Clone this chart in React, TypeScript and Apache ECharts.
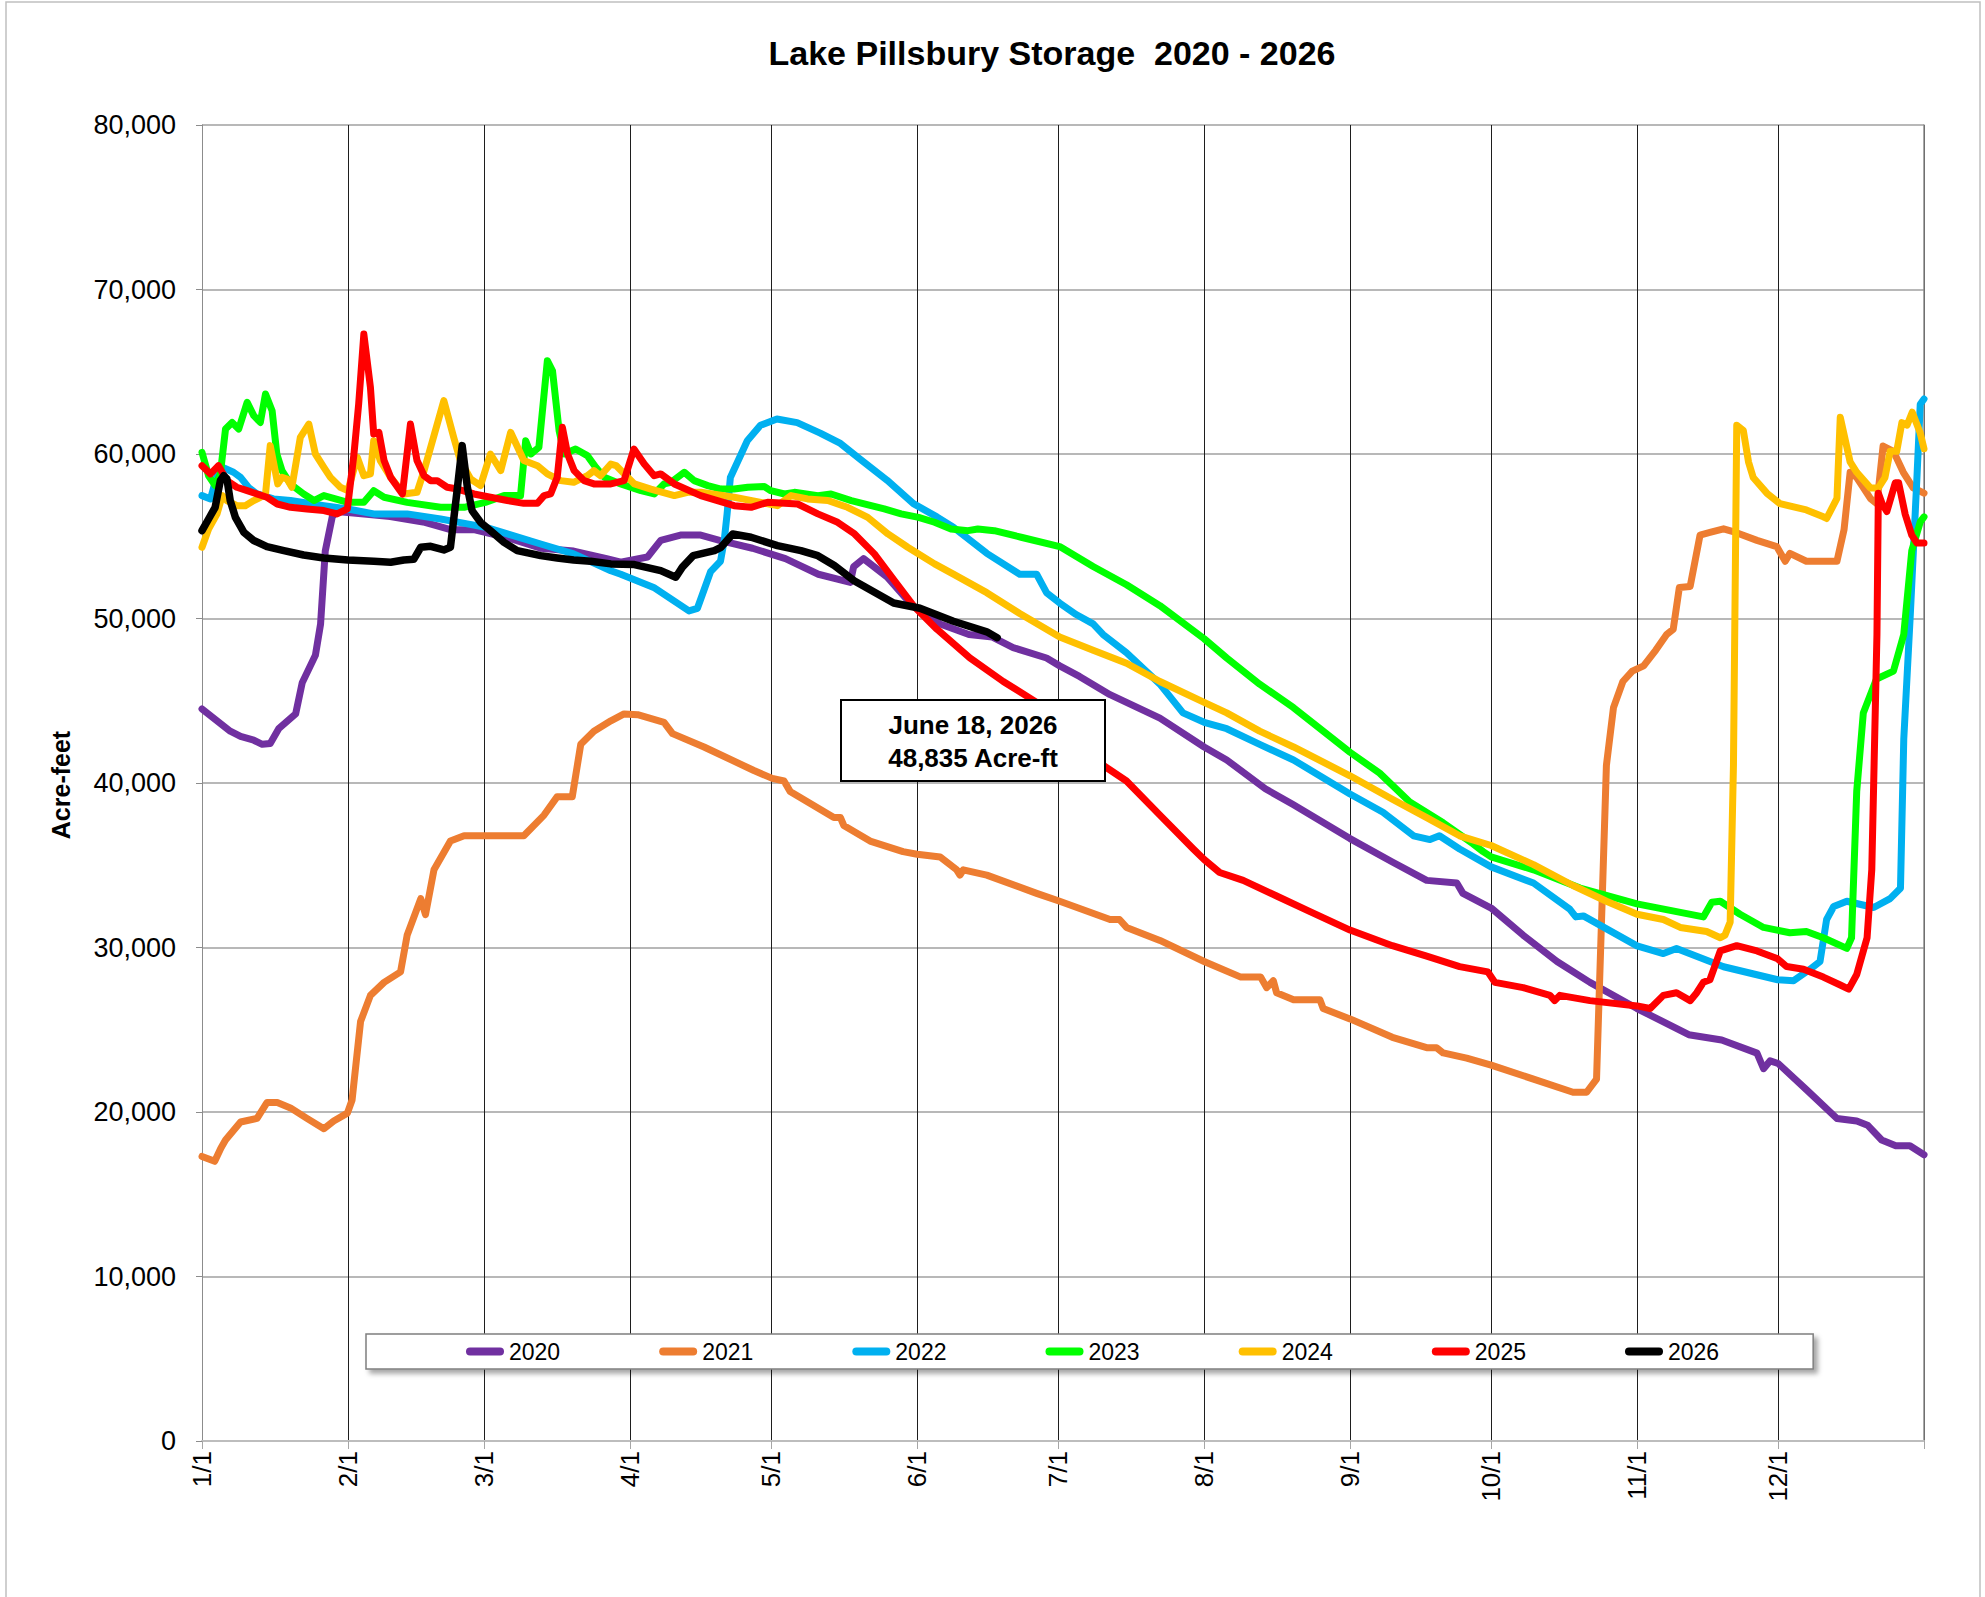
import React, { useEffect, useRef } from "react";
import * as echarts from "echarts";

const FONT = '"Liberation Sans", Arial, Helvetica, sans-serif';

// Axis definitions (leap-year day-of-year axis)
const monthDays = [0, 31, 60, 91, 121, 152, 182, 213, 244, 274, 305, 335];
const monthLabels = ["1/1", "2/1", "3/1", "4/1", "5/1", "6/1", "7/1", "8/1", "9/1", "10/1", "11/1", "12/1"];
const yearEnd = 366;
const yMax = 80000;
const yStep = 10000;

const seriesNames = ["2020", "2021", "2022", "2023", "2024", "2025", "2026"];
const seriesColors = ["#7030A0", "#ED7D31", "#00B0F0", "#00FF00", "#FFC000", "#FF0000", "#000000"];

// [day of year, acre-feet]
const storage2020 = [
  [0, 44500], [6, 43150], [8.2, 42830], [11, 42600], [12.8, 42350], [14.5, 42400], [16.3, 43300], [19.9, 44200],
  [21.3, 46100], [24.1, 47760], [25.2, 49660], [26.2, 54100], [27.7, 56200], [28.7, 56500], [35, 56340], [40, 56200],
  [47, 55870], [53, 55390], [58, 55390], [65, 54900], [72, 54270], [79, 54100], [86, 53640], [89, 53420],
  [94.7, 53740], [97.5, 54750], [101.7, 55070], [106, 55070], [110, 54750], [117, 54270], [124, 53640], [131, 52690],
  [137.8, 52200], [138.5, 53150], [140.6, 53640], [145.6, 52530], [151, 50780], [156.9, 49670], [163, 49030],
  [168, 48870], [172.4, 48230], [179.5, 47600], [182.3, 47120], [186.5, 46480], [193, 45370], [203.6, 43940],
  [213, 42190], [217.8, 41400], [226, 39650], [231.9, 38690], [244, 36620], [253, 35200], [260.3, 34080],
  [266.7, 33920], [268, 33290], [274, 32400], [280.8, 30750], [288, 29150], [295, 27880], [305, 26290],
  [316, 24700], [323, 24380], [330.5, 23580], [331.9, 22630], [333.3, 23110], [335, 22950], [341, 21360],
  [347.5, 19600], [351.7, 19450], [354, 19200], [357, 18300], [360, 17950], [363, 17950], [366, 17400],
];

const storage2021 = [
  [0, 17300], [2.7, 17000], [4, 17800], [5, 18300], [8.2, 19390], [11.7, 19610], [13.8, 20570], [16, 20570],
  [18.8, 20250], [22.3, 19610], [25.9, 18980], [28, 19450], [30.9, 19930], [31.9, 20730], [33.7, 25500],
  [35.8, 27090], [38.7, 27880], [42.2, 28520], [43.6, 30740], [46.5, 32970], [47.5, 32000], [49.3, 34720],
  [52.8, 36470], [55.7, 36790], [60, 36790], [68.4, 36790], [72.7, 38050], [75.5, 39170], [78.7, 39170],
  [80.5, 42350], [83.3, 43150], [86.9, 43780], [89.7, 44200], [92.6, 44150], [98.2, 43690], [100, 43000],
  [106.7, 42190], [117.3, 40760], [121.2, 40280], [123.7, 40120], [125, 39490], [134.3, 37900], [135.7, 37900],
  [136.4, 37420], [142, 36470], [149, 35830], [152, 35670], [156.9, 35500], [160.4, 34720], [161.1, 34400],
  [161.8, 34720], [166.8, 34400], [177.4, 33290], [182.3, 32810], [193, 31700], [195, 31700], [196.5, 31220],
  [203.6, 30430], [213, 29150], [220.8, 28200], [225, 28200], [226.3, 27560], [227.7, 27980], [228.4, 27250],
  [232, 26830], [237.6, 26830], [238.3, 26290], [244, 25660], [253, 24540], [260.3, 23910], [262.4, 23910],
  [263.8, 23590], [268.8, 23270], [274, 22850], [283, 22000], [291.4, 21200], [294.3, 21200], [296.4, 22000],
  [297.8, 34720], [298.5, 41080], [300, 44580], [302, 46170], [304, 46800], [306.4, 47120], [309, 48080],
  [311.3, 49030], [312.7, 49350], [314, 51890], [316.3, 51950], [318.4, 55070], [320.5, 55230], [323.4, 55450],
  [326, 55230], [330.5, 54750], [334.7, 54370], [336.5, 53480], [337.5, 53960], [341, 53480], [347.5, 53480],
  [349, 55390], [350.3, 58890], [351.7, 58570], [354.6, 57300], [356, 56980], [357.3, 60480], [359.5, 60160],
  [361.6, 58890], [363.7, 57940], [366, 57620],
];

const storage2022 = [
  [0, 57470], [1.8, 57270], [3.2, 58700], [4.3, 59190], [6.7, 58890], [8.2, 58580], [9.9, 57970], [11.7, 57570],
  [15.2, 57270], [18.8, 57170], [25.9, 56860], [31, 56660], [36.5, 56360], [43.6, 56360], [50.7, 56050],
  [56.4, 55750], [60.2, 55550], [64.9, 55140], [72, 54530], [79, 53930], [86.9, 52900], [89, 52690], [96, 51890],
  [103.5, 50460], [105.3, 50620], [106.7, 51730], [108.1, 52850], [110.2, 53480], [111, 54750], [111.6, 56340],
  [112.3, 58570], [115.9, 60800], [118.7, 61750], [122.2, 62130], [126.5, 61910], [131.4, 61270], [135.7, 60640],
  [139.9, 59680], [145.6, 58410], [151.2, 56980], [156.2, 56180], [159.7, 55550], [166.8, 53960], [173.8, 52690],
  [177.4, 52690], [179.5, 51570], [182.3, 50940], [185.8, 50240], [189.4, 49670], [191.5, 49030], [196.5, 47920],
  [203.6, 46010], [208.5, 44260], [213, 43690], [217.8, 43300], [224.8, 42350], [232, 41400], [244, 39330],
  [251, 38220], [257.5, 36790], [261, 36560], [263, 36790], [267.3, 35990], [274, 34900], [283, 33920],
  [290.7, 32330], [292, 31860], [293.6, 31920], [305, 30100], [310.6, 29630], [313.4, 29940], [323.4, 28830],
  [334.9, 28040], [338.3, 27980], [341.8, 28680], [343.9, 29150], [345.3, 31700], [346.8, 32490], [349.6, 32810],
  [355.3, 32430], [358.8, 32970], [361, 33600], [361.7, 42670], [363.1, 50300], [364.5, 58570], [365.2, 63020],
  [366, 63340],
];

const storage2023 = [
  [0, 60100], [1.4, 58680], [2.8, 58080], [3.9, 58790], [5, 61520], [6.4, 61920], [7.8, 61520], [9.6, 63140],
  [11, 62330], [12.4, 61920], [13.5, 63650], [14.9, 62630], [15.9, 60000], [17, 58990], [18.8, 58180],
  [21.6, 57570], [23.8, 57170], [25.9, 57470], [31, 57060], [34.4, 57060], [36.5, 57770], [38.7, 57370],
  [43.6, 57060], [50.7, 56760], [55.7, 56760], [60.2, 57060], [64.2, 57470], [67.7, 57470], [68.8, 60810],
  [69.9, 60000], [71.6, 60400], [73.4, 65670], [74.5, 65060], [75.9, 61420], [77, 60000], [79.4, 60300],
  [81.9, 59900], [83.7, 59190], [85.5, 58580], [89, 58180], [93.3, 57770], [96.1, 57570], [98.2, 58180],
  [99.7, 58280], [102.5, 58890], [104.6, 58380], [107.5, 58080], [110.3, 57870], [113.1, 57870], [116, 57980],
  [119.5, 58020], [120.9, 57770], [123.8, 57570], [125.9, 57670], [130.9, 57470], [133.7, 57570], [138, 57170],
  [145, 56660], [148.6, 56360], [152.3, 56150], [155.7, 55850], [159.2, 55440], [162.8, 55340], [164.9, 55440],
  [168.4, 55340], [174.1, 54940], [182.3, 54370], [189.4, 53160], [196.5, 52050], [203.6, 50780], [213, 48770],
  [217.8, 47600], [224.8, 46010], [232, 44580], [244, 41870], [250.3, 40600], [256.7, 38850], [263.8, 37580],
  [270.1, 36310], [272.3, 35830], [274, 35510], [283, 34720], [292.9, 33610], [305, 32650], [319.1, 31860],
  [320.9, 32750], [322.7, 32810], [326.9, 32020], [331.9, 31220], [337.5, 30900], [341, 30970], [344.6, 30590],
  [349.6, 29950], [350.6, 30590], [351.7, 39490], [353.1, 44260], [355.9, 46320], [359.5, 46800], [361.7, 49030],
  [363.4, 54120], [365.2, 55870], [366, 56180],
];

const storage2024 = [
  [0, 54330], [1.4, 55440], [3.2, 56360], [4.3, 57470], [5.3, 57170], [7.4, 56860], [9.2, 56860], [11, 57170],
  [12.4, 57370], [13.5, 57570], [14.5, 60510], [16.1, 58180], [17, 58580], [18.1, 58480], [19.1, 57980],
  [20.9, 61010], [22.7, 61820], [24.1, 60000], [25.9, 59190], [27.3, 58580], [29.4, 57980], [31, 57770],
  [33, 59800], [34.4, 58680], [35.8, 58790], [36.5, 60810], [37.9, 59600], [40.1, 58580], [42.9, 57570],
  [45.7, 57670], [47.2, 58990], [51.4, 63240], [53.5, 61010], [54.9, 59600], [57.1, 58480], [59.2, 58080],
  [61.3, 60000], [63.5, 58990], [65.6, 61320], [68.4, 59600], [71.3, 59290], [73.4, 58790], [76.2, 58380],
  [79, 58280], [81.9, 58680], [83.3, 58990], [84.7, 58680], [86.9, 59390], [88, 59300], [91.9, 58180],
  [95.4, 57870], [100.4, 57470], [103.2, 57670], [106, 57670], [113.1, 57370], [118.8, 57060], [122.3, 56860],
  [125.2, 57470], [128.7, 57270], [133, 57170], [137.2, 56760], [141.5, 56150], [145.8, 55140], [150, 54330],
  [155.7, 53320], [159.7, 52700], [166.8, 51570], [173.8, 50300], [182.3, 48870], [189.4, 48070], [196.5, 47280],
  [203.6, 46170], [213, 44900], [217.8, 44260], [224.8, 43150], [232, 42190], [244, 40440], [253, 39010],
  [260.3, 37900], [267.3, 36790], [274, 36200], [283, 35040], [291.4, 33770], [298.5, 32810], [305, 32020],
  [310.6, 31700], [314.2, 31220], [319.8, 30970], [322.7, 30590], [323.7, 30750], [324.8, 31540], [325.5, 41080],
  [326.2, 61750], [327.6, 61430], [328.7, 59520], [329.7, 58570], [332.6, 57620], [335.4, 56980], [341, 56600],
  [344.6, 56180], [345.3, 56080], [347.5, 57300], [348.2, 62230], [350.3, 59520], [351.7, 58890], [354.6, 57940],
  [356.3, 57940], [357.7, 58570], [358.8, 60160], [360.2, 60160], [361.3, 61910], [362.4, 61750], [363.5, 62540],
  [365.2, 61270], [366, 60320],
];

const storage2025 = [
  [0, 59290], [1.8, 58790], [3.5, 59290], [5.3, 58380], [7.4, 57980], [9.6, 57770], [13.8, 57370], [16, 56960],
  [18.8, 56760], [22.3, 56660], [25.9, 56560], [28.7, 56360], [30.9, 56660], [32.3, 60000], [33.3, 63040],
  [34.4, 67290], [35.8, 64050], [36.5, 61220], [37.6, 61320], [38.7, 59600], [40.1, 58580], [42.6, 57570],
  [44.3, 61820], [45.7, 59600], [47.2, 58680], [48.6, 58380], [50, 58380], [52.1, 57980], [54.3, 57870],
  [57.8, 57570], [61.3, 57370], [64.9, 57170], [68.4, 57000], [71.3, 57000], [72.7, 57470], [74.1, 57570],
  [75.5, 58580], [76.6, 61620], [77.7, 60000], [79.1, 58990], [81.2, 58380], [83.3, 58180], [86.9, 58180],
  [89.7, 58380], [91.8, 60300], [94, 59390], [96.1, 58680], [97.5, 58790], [100.4, 58180], [106, 57470],
  [113.1, 56860], [116.7, 56760], [120.2, 57060], [126.6, 56960], [130.9, 56360], [135.1, 55850], [138.7, 55140],
  [142.9, 53930], [147, 52370], [151.2, 50780], [156.2, 49350], [163.2, 47600], [170.3, 46170], [177.4, 44900],
  [191.5, 41080], [196.5, 40120], [203.6, 38050], [210.7, 35990], [213, 35350], [216.3, 34560], [221.3, 34080],
  [228.4, 33130], [235.5, 32180], [244, 31060], [253, 30110], [260.3, 29470], [267.3, 28840], [273.3, 28520],
  [274.8, 27880], [280.8, 27560], [286.5, 27090], [287.5, 26770], [288.6, 27090], [295, 26770], [305, 26450],
  [307.8, 26290], [310.6, 27090], [313.4, 27250], [316.3, 26770], [317.7, 27250], [319.1, 27880], [320.5, 28040],
  [322.7, 29790], [326.2, 30110], [330.5, 29790], [334.9, 29310], [336.8, 28840], [340.4, 28680], [344.6, 28200],
  [348.2, 27720], [350, 27470], [351.7, 28360], [353.9, 30590], [354.9, 34720], [356, 49030], [356.3, 57620],
  [357.1, 56980], [358.1, 56500], [359.9, 58250], [360.6, 58250], [362, 56340], [363.4, 55070], [364.5, 54590],
  [366, 54590],
];

const storage2026 = [
  [0, 55340], [1.4, 56050], [2.8, 56760], [3.9, 58380], [4.6, 58680], [5.3, 58480], [6, 57170], [7.1, 56150],
  [8.9, 55240], [11, 54740], [13.8, 54370], [17.4, 54130], [21.6, 53860], [25.9, 53680], [31, 53560],
  [36.5, 53480], [40.1, 53420], [42.9, 53560], [45, 53600], [46.5, 54330], [48.6, 54390], [51.4, 54170],
  [52.8, 54330], [54.3, 57980], [55.3, 60510], [56.4, 57980], [57.4, 56560], [59.2, 55850], [61.3, 55340],
  [64.2, 54630], [67, 54130], [72, 53820], [75.5, 53680], [79, 53560], [82.6, 53480], [86.9, 53320],
  [91.9, 53280], [97.5, 52910], [100.7, 52510], [102.1, 53120], [104.4, 53820], [108.9, 54130], [110.3, 54330],
  [112.8, 55140], [116.7, 54940], [122.3, 54430], [127.3, 54130], [130.9, 53820], [134.4, 53220], [138.6, 52300],
  [147, 50940], [152.6, 50620], [159.7, 49830], [166.8, 49190], [169, 48835],
];

const allSeries = [storage2020, storage2021, storage2022, storage2023, storage2024, storage2025, storage2026];

const titleText = "Lake Pillsbury Storage  2020 - 2026";
const yAxisName = "Acre-feet";
const noteLines = ["June 18, 2026", "48,835 Acre-ft"];

export default function App() {
  const ref = useRef<HTMLDivElement>(null);

  useEffect(() => {
    if (!ref.current) return;
    const chart = echarts.init(ref.current, undefined, { renderer: "svg" });

    const series = allSeries.map((data, i) => ({
      name: seriesNames[i],
      type: "line",
      data,
      color: seriesColors[i],
      showSymbol: false,
      symbol: "none",
      smooth: false,
      clip: true,
      itemStyle: { color: seriesColors[i] },
      lineStyle: { color: seriesColors[i], width: i === 6 ? 7.5 : 7, cap: "round", join: "round" },
      emphasis: { disabled: true },
    }));

    chart.setOption({
      animation: false,
      backgroundColor: "#ffffff",
      textStyle: { fontFamily: FONT },
      grid: { left: 202, top: 125, right: 61, bottom: 156, containLabel: false },
      xAxis: {
        type: "value",
        min: 0,
        max: yearEnd,
        axisLine: { show: true, onZero: false, lineStyle: { color: "#bdbdbd", width: 2 } },
        axisTick: {
          show: true,
          customValues: [...monthDays, yearEnd],
          length: 8,
          lineStyle: { color: "#a6a6a6", width: 1 },
        },
        axisLabel: {
          customValues: monthDays,
          rotate: 90,
          margin: 10,
          fontSize: 26,
          color: "#000",
          fontFamily: FONT,
          formatter: (v: number) => {
            const idx = monthDays.indexOf(Math.round(v));
            return idx >= 0 ? monthLabels[idx] : "";
          },
        },
        splitLine: { show: true, lineStyle: { color: "#1e1e1e", width: 1 } },
      },
      yAxis: [
        {
          type: "value",
          min: 0,
          max: yMax,
          interval: yStep,
          axisLine: { show: true, lineStyle: { color: "#8c8c8c", width: 1 } },
          axisTick: { show: true, length: 6, lineStyle: { color: "#8c8c8c" } },
          axisLabel: {
            fontSize: 27,
            margin: 26,
            color: "#000",
            fontFamily: FONT,
            formatter: (v: number) => v.toLocaleString("en-US"),
          },
          splitLine: { show: true, lineStyle: { color: "#a0a0a0", width: 1.5 } },
        },
        {
          type: "value",
          position: "right",
          min: 0,
          max: yMax,
          interval: yStep,
          axisLine: { show: true, lineStyle: { color: "#8c8c8c", width: 1.5 } },
          axisTick: { show: false },
          axisLabel: { show: false },
          splitLine: { show: false },
        },
      ],
      legend: {
        data: seriesNames,
        left: 366,
        top: 1334,
        orient: "horizontal",
        itemWidth: 38,
        itemHeight: 8,
        itemGap: 99,
        icon: "path://M4,0H34A4,4,0,0,1,34,8H4A4,4,0,0,1,4,0Z",
        padding: [6, 94, 6, 100],
        backgroundColor: "#ffffff",
        borderColor: "#7f7f7f",
        borderWidth: 1.5,
        shadowBlur: 5,
        shadowColor: "rgba(0,0,0,0.35)",
        shadowOffsetX: 4,
        shadowOffsetY: 4,
        selectedMode: false,
        textStyle: { fontSize: 23, color: "#000", fontFamily: FONT },
      },
      graphic: [
        {
          type: "rect",
          z: 0,
          silent: true,
          shape: { x: 6, y: 2, width: 1974, height: 1620 },
          style: { fill: "none", stroke: "#c0c0c0", lineWidth: 1.5 },
        },
        {
          type: "text",
          z: 100,
          x: 1052,
          y: 53,
          style: {
            text: titleText,
            font: `bold 34px ${FONT}`,
            fill: "#000",
            align: "center",
            verticalAlign: "middle",
          },
        },
        {
          type: "text",
          z: 100,
          x: 61,
          y: 785,
          rotation: Math.PI / 2,
          style: {
            text: yAxisName,
            font: `bold 25px ${FONT}`,
            fill: "#000",
            align: "center",
            verticalAlign: "middle",
          },
        },
        {
          type: "rect",
          z: 100,
          shape: { x: 841, y: 700, width: 264, height: 81 },
          style: { fill: "#ffffff", stroke: "#000000", lineWidth: 2 },
        },
        {
          type: "text",
          z: 101,
          x: 973,
          y: 741,
          style: {
            text: noteLines.join("\n"),
            font: `bold 26px ${FONT}`,
            fill: "#000",
            align: "center",
            verticalAlign: "middle",
            lineHeight: 33,
          },
        },
      ],
      series,
    });

    return () => {
      chart.dispose();
    };
  }, []);

  return (
    <div
      ref={ref}
      style={{ position: "absolute", left: 0, top: 0, width: 1985, height: 1597, background: "#fff" }}
    />
  );
}
